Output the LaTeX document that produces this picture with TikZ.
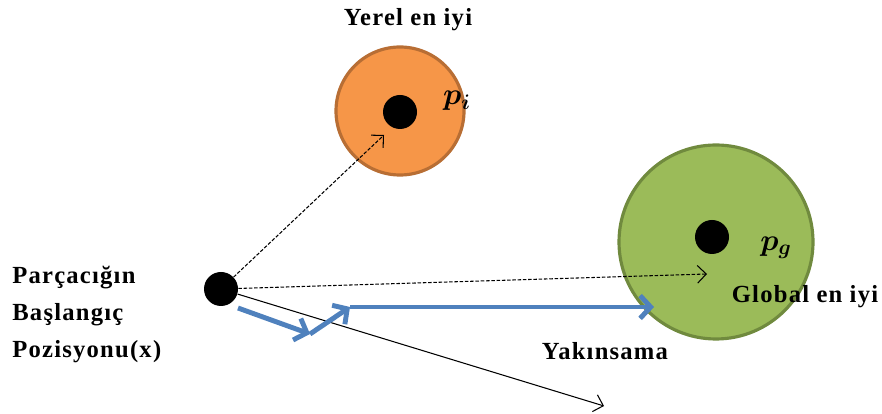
\documentclass[tikz,border=0pt]{standalone}
\usepackage{amsmath,amssymb}
\usepackage{fontspec}
\setmainfont{Liberation Serif}
\newfontfamily\etiket[LetterSpace=5]{Liberation Serif}
\usepackage{tikz}
\usetikzlibrary{arrows.meta}
\usetikzlibrary{positioning}

\definecolor{turuncu}{RGB}{246,150,72}
\definecolor{turuncuK}{RGB}{184,110,52}
\definecolor{yesil}{RGB}{155,187,89}
\definecolor{yesilK}{RGB}{112,138,62}
\definecolor{mavi}{RGB}{79,129,189}

\tikzset{
	yazi/.style={font=\etiket\bfseries\fontsize{14}{21}\selectfont, inner sep=0pt},
	nokta/.style={circle, fill=black, minimum size=34*0.2mm, inner sep=0pt},
	kesik/.style={dash pattern=on 2pt off 1pt, line width=0.6pt, -{Straight Barb[length=5pt,width=10pt]}},
	hiz/.style={mavi, line width=2.8pt, -{Straight Barb[length=6pt,width=13pt]}}
}

\begin{document}
\begin{tikzpicture}[x=0.2mm,y=-0.2mm]
	\useasboundingbox (0,0) rectangle (882,414);
	
	% yerel ve global en iyi bolgeler
	\node[circle, fill=turuncu, draw=turuncuK, line width=1.8pt, minimum size=128*0.2mm] (yerel) at (400,111) {};
	\node[circle, fill=yesil, draw=yesilK, line width=1.8pt, minimum size=194*0.2mm] (global) at (716,242) {};
	
	\node[nokta] (pi) at (400,112) {};
	\node[nokta] (pg) at (712,237) {};
	\node[nokta] (x0) at (221,289) {};
	
	% oklarin uc noktalari
	\coordinate (ucL) at (384,135);
	\coordinate (ucG) at (707,274);
	\coordinate (ucS) at (604,406);
	\coordinate (b0) at (238,308);
	\coordinate (b1) at (310,334);
	\coordinate (b2) at (350,307);
	\coordinate (b3) at (654,307);
	
	\draw[kesik] (x0) -- (ucL);
	\draw[kesik] (x0) -- (ucG);
	\draw[line width=0.6pt, -{Straight Barb[length=5pt,width=10pt]}] (x0) -- (ucS);
	
	% yakinsama yolu
	\draw[hiz] (b0) -- (b1);
	\draw[hiz] (b1) -- (b2);
	\draw[hiz] (b2) -- (b3);
	
	% etiketler
	\node[yazi] (t1) at (408,20) {Yerel en iyi};
	\node[yazi] (t2) at (805,297) {Global en iyi};
	\node[yazi] (t3) at (605,351) {Yakınsama};
	\node[yazi, anchor=west] (t4) at (12,278) {Parçacığın};
	\node[yazi, anchor=west] (t5) at (12,315) {Başlangıç};
	\node[yazi, anchor=west] (t6) at (12,352) {Pozisyonu(x)};
	\node[font=\fontsize{17}{20}\selectfont] (lpi) at (457,101) {$\boldsymbol{p_i}$};
	\node[font=\fontsize{17}{20}\selectfont] (lpg) at (776,248) {$\boldsymbol{p_g}$};
\end{tikzpicture}
\end{document}
